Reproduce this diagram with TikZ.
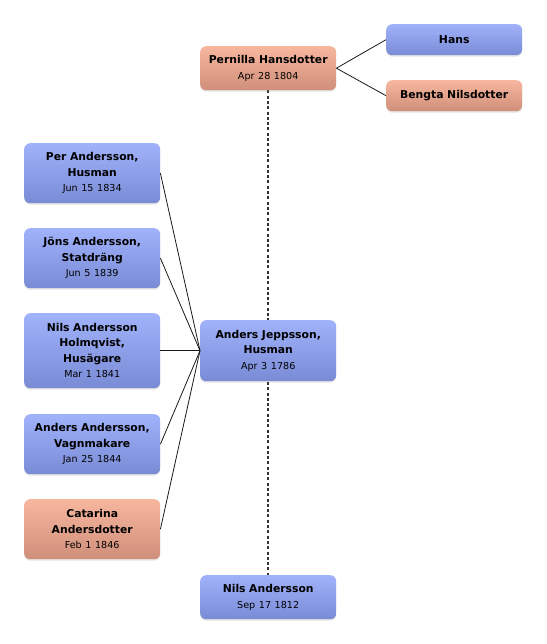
\documentclass[tikz,border=0pt]{standalone}
\usepackage{fontspec}
\setmainfont{DejaVu Sans}
\usetikzlibrary{shadows}
\pgfdeclarelayer{background}
\pgfsetlayers{background,main}
\definecolor{btop}{RGB}{160,178,250}
\definecolor{bbot}{RGB}{122,139,214}
\definecolor{ptop}{RGB}{247,182,158}
\definecolor{pbot}{RGB}{207,143,122}
\newcommand{\pdate}[1]{{\fontsize{9.6}{14}\selectfont\mdseries #1}}
\tikzset{
  person/.style={anchor=north west, rounded corners=6pt, inner sep=0pt,
    align=center, text width=136pt, minimum width=136pt, text=black,
    font=\fontsize{10.8}{15.5}\selectfont\bfseries,
    drop shadow={shadow xshift=0pt, shadow yshift=-1.5pt, opacity=0.22}},
  male/.style={person, top color=btop, bottom color=bbot},
  female/.style={person, top color=ptop, bottom color=pbot},
  link/.style={draw=black!90, line width=0.8pt},
  dashlink/.style={draw=black!80, line width=1.7pt, dash pattern=on 3pt off 2.3pt}
}
\begin{document}
\begin{tikzpicture}[x=1pt, y=-1pt]
\useasboundingbox (0,0) rectangle (546,644);
\node[female, minimum height=44pt] (pern) at (200,46) {Pernilla Hansdotter\\\pdate{Apr 28 1804}};
\node[male, minimum height=31pt] (hans) at (386,24) {Hans};
\node[female, minimum height=31pt] (beng) at (386,80) {Bengta Nilsdotter};
\node[male, minimum height=60pt] (per) at (24,143) {Per Andersson,\\Husman\\\pdate{Jun 15 1834}};
\node[male, minimum height=60pt] (jons) at (24,228) {Jöns Andersson,\\Statdräng\\\pdate{Jun 5 1839}};
\node[male, minimum height=75pt] (nilsh) at (24,313) {Nils Andersson\\Holmqvist,\\Husägare\\\pdate{Mar 1 1841}};
\node[male, minimum height=61pt] (anders) at (200,320) {Anders Jeppsson,\\Husman\\\pdate{Apr 3 1786}};
\node[male, minimum height=60pt] (anda) at (24,414) {Anders Andersson,\\Vagnmakare\\\pdate{Jan 25 1844}};
\node[female, minimum height=60pt] (cat) at (24,499) {Catarina\\Andersdotter\\\pdate{Feb 1 1846}};
\node[male, minimum height=44pt] (nilsb) at (200,575) {Nils Andersson\\\pdate{Sep 17 1812}};
\begin{pgfonlayer}{background}
\draw[dashlink] (pern.south) -- (nilsb.north);
\end{pgfonlayer}
\draw[link] (pern.east) -- (hans.west);
\draw[link] (pern.east) -- (beng.west);
\draw[link] (anders.west) -- (per.east);
\draw[link] (anders.west) -- (jons.east);
\draw[link] (anders.west) -- (nilsh.east);
\draw[link] (anders.west) -- (anda.east);
\draw[link] (anders.west) -- (cat.east);
\end{tikzpicture}
\end{document}
